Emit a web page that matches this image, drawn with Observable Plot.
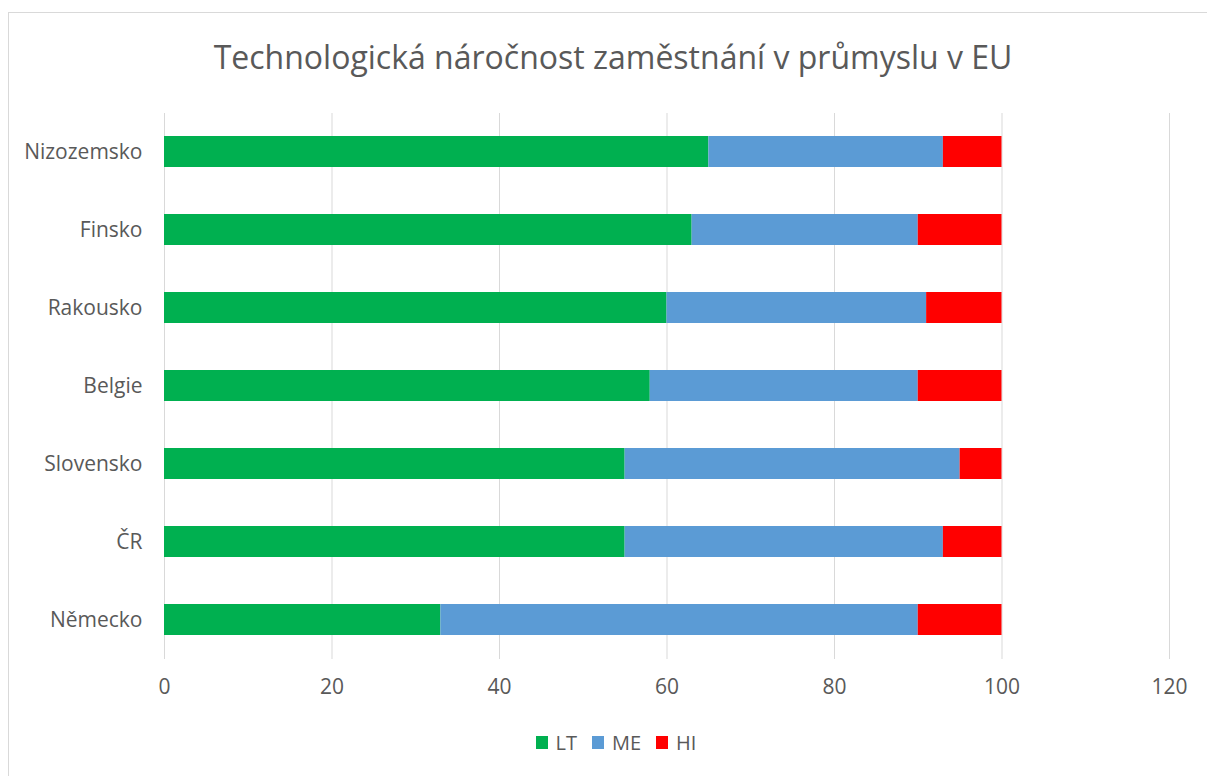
<!DOCTYPE html>
<html><head><meta charset="utf-8">
<script src="https://cdn.jsdelivr.net/npm/d3@7"></script>
<script src="https://cdn.jsdelivr.net/npm/@observablehq/plot@0.6"></script>
<style>
body{margin:0;background:#fff;font-family:"Open Sans",sans-serif;}
#frame{position:absolute;left:8px;top:12px;width:1300px;height:900px;border:1px solid #d9d9d9;box-sizing:border-box;}
#title{position:absolute;left:0;width:1226px;top:35px;text-align:center;font-size:32px;color:#595959;white-space:nowrap;}
#chart{position:absolute;left:0;top:0;}
#legend{position:absolute;left:0;width:1232px;top:729px;display:flex;justify-content:center;gap:15px;font-size:20px;color:#595959;}
#legend span.item{display:flex;align-items:center;gap:8px;}
#legend i{display:inline-block;width:12px;height:13px;}
</style></head>
<body>
<div id="frame"></div>
<div id="title">Technologická náročnost zaměstnání v průmyslu v EU</div>
<div id="chart"></div>
<div id="legend"></div>
<script>
const countries = ["Nizozemsko","Finsko","Rakousko","Belgie","Slovensko","ČR","Německo"];
const LT = [65,63,60,58,55,55,33];
const ME = [28,27,31,32,40,38,57];
const HI = [7,10,9,10,5,7,10];
const series = ["LT","ME","HI"];
const colors = ["#00b050","#5b9bd5","#ff0000"];
const xTicks = [0,20,40,60,80,100,120];

const rows = [];
countries.forEach((c,i)=>{
  rows.push({country:c, series:"LT", value:LT[i]});
  rows.push({country:c, series:"ME", value:ME[i]});
  rows.push({country:c, series:"HI", value:HI[i]});
});

const chart = Plot.plot({
  width:1207, height:720,
  marginTop:113, marginBottom:61, marginLeft:164, marginRight:38,
  style:{fontFamily:"Open Sans, sans-serif", fontSize:"20px", color:"#595959", background:"transparent"},
  x:{domain:[0,120], ticks:xTicks, label:null},
  y:{domain:countries, paddingInner:0.6, paddingOuter:0.3, label:null},
  color:{domain:series, range:colors},
  marks:[
    Plot.gridX(xTicks,{stroke:"#d9d9d9", strokeOpacity:1, strokeWidth:1}),
    Plot.barX(rows, Plot.stackX({x:"value", y:"country", fill:"series", order:series})),
    Plot.axisX(xTicks,{tickSize:0, tickPadding:20, fontSize:21, fill:"#595959"}),
    Plot.axisY({tickSize:0, tickPadding:22, fontSize:21, fill:"#595959"})
  ]
});
document.getElementById("chart").appendChild(chart);

const leg = document.getElementById("legend");
series.forEach((s,i)=>{
  const el = document.createElement("span");
  el.className="item";
  el.innerHTML = `<i style="background:${colors[i]}"></i>${s}`;
  leg.appendChild(el);
});
</script>
</body></html>
